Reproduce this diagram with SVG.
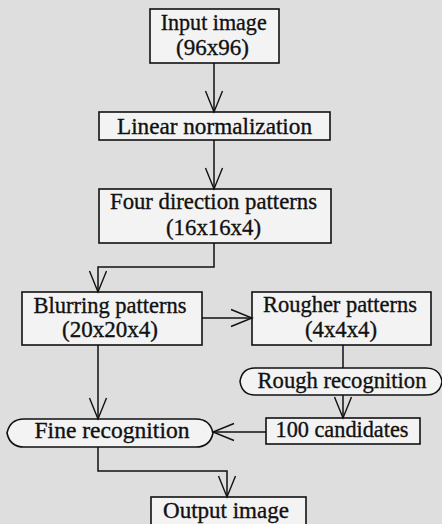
<svg xmlns="http://www.w3.org/2000/svg" width="442" height="524" viewBox="0 0 442 524">
<defs>
<marker id="v" markerUnits="userSpaceOnUse" markerWidth="24" markerHeight="22" refX="22" refY="11" orient="auto" overflow="visible">
<path d="M1,2.5 L22,11 L1,19.5" fill="none" stroke="#111" stroke-width="1.4"/>
</marker>
<style>
.box{fill:#f3f3f3;stroke:#111;stroke-width:1.6}
.t{font-family:"Liberation Serif","Times New Roman",serif;font-size:23px;fill:#111;stroke:#111;stroke-width:0.35;text-anchor:middle}
.c{fill:none;stroke:#111;stroke-width:1.5}
</style>
</defs>
<rect x="0" y="0" width="442" height="524" fill="#dedede"/>
<g id="input">
<rect class="box" x="150" y="9" width="129" height="54"/>
<text class="t" x="213.7" y="30" textLength="106" lengthAdjust="spacingAndGlyphs">Input image</text>
<text class="t" x="212.5" y="55" textLength="73" lengthAdjust="spacingAndGlyphs">(96x96)</text>
</g>
<g id="linear">
<rect class="box" x="99" y="112" width="231" height="28"/>
<text class="t" x="214.5" y="133.5" textLength="195" lengthAdjust="spacingAndGlyphs">Linear normalization</text>
</g>
<g id="four">
<rect class="box" x="99" y="189" width="232" height="54"/>
<text class="t" x="213.5" y="209" textLength="207" lengthAdjust="spacingAndGlyphs">Four direction patterns</text>
<text class="t" x="213.5" y="235" textLength="95" lengthAdjust="spacingAndGlyphs">(16x16x4)</text>
</g>
<g id="blur">
<rect class="box" x="22" y="292" width="180" height="53"/>
<text class="t" x="110" y="313" textLength="153" lengthAdjust="spacingAndGlyphs">Blurring patterns</text>
<text class="t" x="110" y="337" textLength="96" lengthAdjust="spacingAndGlyphs">(20x20x4)</text>
</g>
<g id="rougher">
<rect class="box" x="252" y="292" width="179" height="53"/>
<text class="t" x="340" y="312" textLength="154" lengthAdjust="spacingAndGlyphs">Rougher patterns</text>
<text class="t" x="341" y="337" textLength="72" lengthAdjust="spacingAndGlyphs">(4x4x4)</text>
</g>
<g id="rough">
<path class="box" d="M255,368 H426 Q440,368 442,381.5 Q440,395 426,395 H255 Q242,395 240,381.5 Q242,368 255,368 Z"/>
<text class="t" x="342" y="388" textLength="169" lengthAdjust="spacingAndGlyphs">Rough recognition</text>
</g>
<g id="cand">
<rect class="box" x="266" y="418" width="154" height="26"/>
<text class="t" x="342" y="437" textLength="133" lengthAdjust="spacingAndGlyphs">100 candidates</text>
</g>
<g id="fine">
<path class="box" d="M24,419 H196 Q210,419 213,433 Q210,447 196,447 H24 Q10,447 7,433 Q10,419 24,419 Z"/>
<text class="t" x="112" y="438" textLength="155" lengthAdjust="spacingAndGlyphs">Fine recognition</text>
</g>
<g id="output">
<rect class="box" x="151" y="497" width="155" height="32"/>
<text class="t" x="226" y="518" textLength="126" lengthAdjust="spacingAndGlyphs">Output image</text>
</g>
<g id="connectors">
<path class="c" d="M214,63 V112" marker-end="url(#v)"/>
<path class="c" d="M214,140 V189" marker-end="url(#v)"/>
<path class="c" d="M214,243 V267 H98 V292" marker-end="url(#v)"/>
<path class="c" d="M202,318 H252" marker-end="url(#v)"/>
<path class="c" d="M343,345 V368"/>
<path class="c" d="M343,395 V418" marker-end="url(#v)"/>
<path class="c" d="M266,432 H213" marker-end="url(#v)"/>
<path class="c" d="M98,345 V419" marker-end="url(#v)"/>
<path class="c" d="M98,447 V471 H227 V497" marker-end="url(#v)"/>
</g>
</svg>
